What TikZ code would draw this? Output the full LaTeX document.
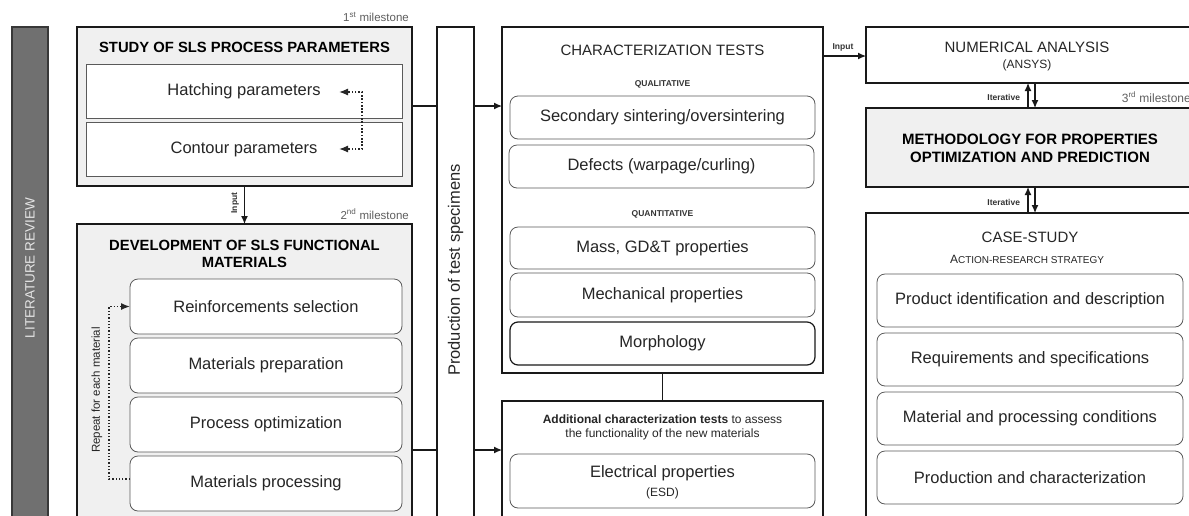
\documentclass[tikz,border=0pt]{standalone}
\usepackage{fontspec}
\setmainfont{Liberation Sans}
\usetikzlibrary{arrows.meta}
\definecolor{lightfill}{HTML}{F0F0F0}
\definecolor{barfill}{HTML}{707070}
\definecolor{barline}{HTML}{383838}
\definecolor{txt}{HTML}{262626}
\definecolor{innerline}{HTML}{5A5A5A}
\definecolor{mstone}{HTML}{5E5E5E}
\tikzset{
  outer/.style={draw=black!90, line width=1.2pt, inner sep=0pt, outer sep=0pt},
  graybox/.style={outer, fill=lightfill},
  whitebox/.style={outer, fill=white},
  sqbox/.style={draw=innerline, line width=0.8pt, fill=white, inner sep=0pt, outer sep=0pt,
    font=\fontsize{16.5}{19}\selectfont, text=txt, align=center},
  rbox/.style={sqbox, rounded corners=8pt},
  lbl/.style={inner sep=0pt, outer sep=0pt, text=txt, align=center},
  small/.style={lbl, text=black!80, font=\bfseries\fontsize{8.5}{10}\selectfont},
  conn/.style={line width=1.2pt, draw=black!90},
  arr/.style={conn, -{Latex[length=8pt,width=7pt]}},
  dotarr/.style={dotted, line width=1.3pt, draw=black!85, -{Latex[length=9pt,width=7pt]}},
  mlabel/.style={inner sep=0pt, text=mstone, font=\fontsize{11.5}{13}\selectfont, anchor=east},
}
\begin{document}
\begin{tikzpicture}[x=1pt,y=-1pt]
\useasboundingbox (0,0) rectangle (1189,515);

% literature review bar
\node[draw=barline, line width=2pt, fill=barfill, inner sep=0pt, outer sep=0pt,
      minimum width=36pt, minimum height=493pt] (lit) at (30,273.5) {};
\node[rotate=90, inner sep=0pt, text=white!90!black, font=\fontsize{13.5}{16}\selectfont] (littxt) at (30,268) {LITERATURE REVIEW};

% box 1
\node[graybox, minimum width=335pt, minimum height=159pt] (b1) at (244.5,106.5) {};
\node[lbl, font=\bfseries\fontsize{14.8}{17}\selectfont, text=black] (b1t) at (244.5,47) {STUDY OF SLS PROCESS PARAMETERS};
\node[sqbox, minimum width=316pt, minimum height=54pt] (hatch) at (244,91) {Hatching parameters};
\node[sqbox, minimum width=316pt, minimum height=54pt] (cont) at (244,149) {Contour parameters};
\node[mlabel] (m1) at (409,17) {1\textsuperscript{st} milestone};

\coordinate (hA) at (362,92);
\coordinate (hB) at (339,92);
\coordinate (cA) at (362,149);
\coordinate (cB) at (339,149);
\draw[dotarr] (cA) -- (hA) -- (hB);
\draw[dotarr] (hA) -- (cA) -- (cB);

% box 2
\node[graybox, minimum width=335pt, minimum height=296pt] (b2) at (244.5,372) {};
\node[lbl, font=\bfseries\fontsize{14.8}{17.5}\selectfont, text=black] (b2t) at (244.5,254) {DEVELOPMENT OF SLS FUNCTIONAL\\MATERIALS};
\node[rbox, minimum width=272pt, minimum height=55pt] (reinf) at (266,306.5) {Reinforcements selection};
\node[rbox, minimum width=272pt, minimum height=55pt] (prep) at (266,365.5) {Materials preparation};
\node[rbox, minimum width=272pt, minimum height=55pt] (popt) at (266,424.5) {Process optimization};
\node[rbox, minimum width=272pt, minimum height=55pt] (mproc) at (266,483.5) {Materials processing};
\node[mlabel] (m2) at (409,214) {2\textsuperscript{nd} milestone};

\coordinate (rl) at (109,479);
\draw[dotarr] (rl -| mproc.west) -- (rl) |- (reinf.west);
\node[rotate=90, lbl, font=\fontsize{11.5}{13}\selectfont] (rep) at (97,390) {Repeat for each material};

% input arrow box1 -> box2
\draw[arr] (b1.south) -- (b2.north);
\node[rotate=90, small] (inp1) at (235,203) {Input};

% production bar
\node[whitebox, minimum width=37pt, minimum height=493pt] (prod) at (455.5,273.5) {};
\node[rotate=90, lbl, font=\fontsize{16.5}{19}\selectfont] (prodtxt) at (455.5,270) {Production of test specimens};

% characterization box
\node[whitebox, minimum width=321pt, minimum height=346pt] (char) at (662.5,200) {};
\node[lbl, font=\fontsize{15}{18}\selectfont] (chart) at (662.5,50) {CHARACTERIZATION TESTS};
\node[small] (qual) at (662.5,84) {QUALITATIVE};
\node[rbox, minimum width=305pt, minimum height=43pt] (sec) at (662.5,117.5) {Secondary sintering/oversintering};
\node[rbox, minimum width=305pt, minimum height=43pt] (def) at (661.5,166.5) {Defects (warpage/curling)};
\node[small] (quant) at (662.5,214) {QUANTITATIVE};
\node[rbox, minimum width=305pt, minimum height=42pt] (mass) at (662.5,248) {Mass, GD\&T properties};
\node[rbox, minimum width=305pt, minimum height=44pt] (mech) at (662.5,295) {Mechanical properties};
\node[rbox, draw=black!90, line width=1.2pt, minimum width=305pt, minimum height=43pt] (morph) at (662.5,343.5) {Morphology};

% additional tests
\node[whitebox, minimum width=321pt, minimum height=120pt] (addl) at (662.5,461) {};
\node[lbl, font=\fontsize{12}{14}\selectfont] (addt) at (662.5,427) {\textbf{Additional characterization tests} to assess\\the functionality of the new materials};
\node[rbox, minimum width=305pt, minimum height=54pt] (elec) at (662.5,481) {};
\node[lbl, font=\fontsize{16.5}{19}\selectfont] (elect) at (662.5,473) {Electrical properties};
\node[lbl, font=\fontsize{12}{14}\selectfont] (esd) at (662.5,493) {(ESD)};
\draw[conn] (char.south) -- (addl.north);

% connectors to production bar and tests
\coordinate (j1) at (412,106);
\coordinate (j2) at (412,450);
\draw[conn] (j1) -- (j1 -| prod.west);
\draw[arr] (j1 -| prod.east) -- (j1 -| char.west);
\draw[conn] (j2) -- (j2 -| prod.west);
\draw[arr] (j2 -| prod.east) -- (j2 -| addl.west);

% numerical analysis
\node[whitebox, minimum width=326pt, minimum height=56pt] (num) at (1029,55) {};
\node[lbl, font=\fontsize{15}{18}\selectfont] (numt) at (1027,47) {NUMERICAL ANALYSIS};
\node[lbl, font=\fontsize{12}{14}\selectfont] (ansys) at (1027,65) {(ANSYS)};
\coordinate (inp) at (823,56);
\draw[arr] (inp) -- (inp -| num.west);
\node[small] (inp2) at (843,47) {Input};

% methodology
\node[graybox, minimum width=326pt, minimum height=79pt] (meth) at (1029,147.5) {};
\node[lbl, font=\bfseries\fontsize{15}{18}\selectfont, text=black] (metht) at (1030,148) {METHODOLOGY FOR PROPERTIES\\OPTIMIZATION AND PREDICTION};
\node[mlabel, font=\fontsize{12}{14}\selectfont] (m3) at (1191,97) {3\textsuperscript{rd} milestone};

% case study
\node[whitebox, minimum width=326pt, minimum height=308pt] (case) at (1029,367) {};
\node[lbl, font=\fontsize{15}{18}\selectfont] (caset) at (1030,237) {CASE-STUDY};
\node[lbl] (strat) at (1027,259) {{\fontsize{12}{14}\selectfont A}{\fontsize{10}{12}\selectfont CTION-RESEARCH STRATEGY}};
\node[rbox, minimum width=306pt, minimum height=53pt] (prodid) at (1030,300.5) {Product identification and description};
\node[rbox, minimum width=306pt, minimum height=53pt] (req) at (1030,359.5) {Requirements and specifications};
\node[rbox, minimum width=306pt, minimum height=53pt] (matc) at (1030,418.5) {Material and processing conditions};
\node[rbox, minimum width=306pt, minimum height=53pt] (prch) at (1030,477.5) {Production and characterization};

% iterative arrows
\draw[arr] ([xshift=-1pt]meth.north) -- ([xshift=-1pt]num.south);
\draw[arr] ([xshift=6pt]num.south) -- ([xshift=6pt]meth.north);
\draw[arr] ([xshift=-1pt]case.north) -- ([xshift=-1pt]meth.south);
\draw[arr] ([xshift=6pt]meth.south) -- ([xshift=6pt]case.north);
\node[small, anchor=east] (it1) at (1020,97) {Iterative};
\node[small, anchor=east] (it2) at (1020,202) {Iterative};
\end{tikzpicture}
\end{document}
